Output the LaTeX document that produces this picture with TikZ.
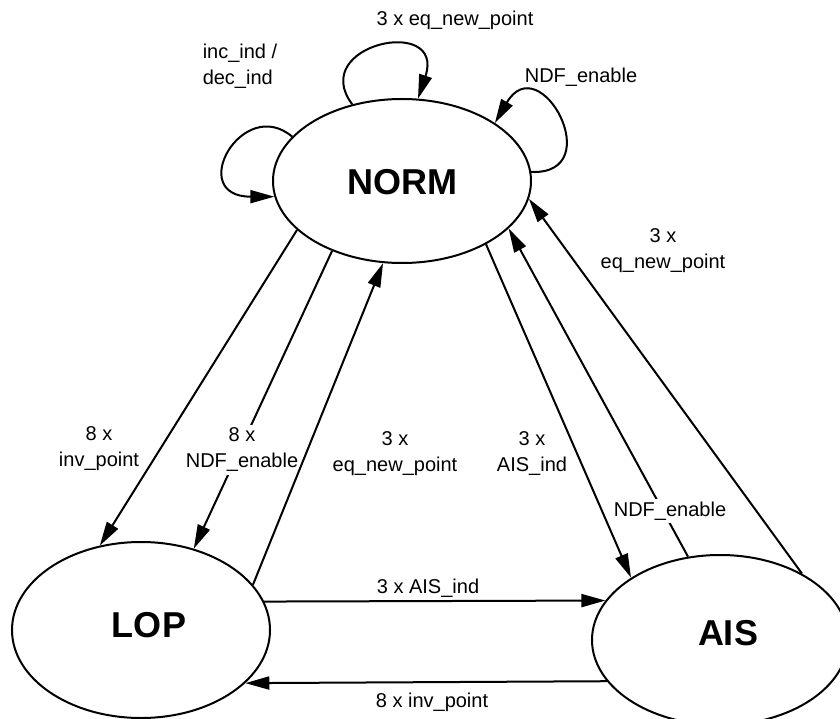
\documentclass[tikz,border=0pt]{standalone}
\usepackage{fontspec}
\setmainfont{Liberation Sans}
\usetikzlibrary{arrows.meta,shapes.geometric}
\begin{document}
\begin{tikzpicture}[x=1pt,y=1pt,
  state/.style={draw, ellipse, line width=2pt, inner sep=0pt},
  statetext/.style={font=\fontsize{36}{40}\selectfont\bfseries, inner sep=0pt},
  lbl/.style={font=\fontsize{20}{26}\selectfont, align=center, inner sep=3pt},
  onlbl/.style={lbl, fill=white},
  edge/.style={line width=2pt, -{Triangle[length=24pt,width=13pt]}},
]
\useasboundingbox (0,0) rectangle (840,-719);
% states
\node[state, minimum width=258pt, minimum height=164pt] (NORM) at (402,-181) {};
\node[state, minimum width=258pt, minimum height=176pt] (LOP) at (141,-630) {};
\node[state, minimum width=256pt, minimum height=170pt] (AIS) at (720,-640) {};
\node[statetext] (NORMt) at (402,-182) {NORM};
\node[statetext] (LOPt) at (149,-625) {LOP};
\node[statetext] (AISt) at (728,-633) {AIS};
% self loops on NORM
\draw[edge] (NORM.123.7) .. controls +(-45,60) and +(28,84) .. (NORM.79.6);
\draw[edge] (NORM.158.6) .. controls +(-50,42) and +(-89,0) .. (NORM.187.1);
\draw[edge] (NORM.4) .. controls +(78,-3) and +(45,77) .. (NORM.32.4);
% NORM <-> LOP
\draw[edge] (NORM.205) -- (LOP.116.3);
\draw[edge] (NORM.225.8) -- (LOP.57.6);
\node[onlbl] (l2) at (242,-450) {8 x\\NDF\_enable};
\draw[edge] (LOP.22.8) -- (NORM.257);
% NORM <-> AIS
\draw[edge] (NORM.323.2) -- (AIS.145.9);
\draw[edge] (AIS.111.1) -- (NORM.336.2);
\node[onlbl] (l5) at (670,-511) {NDF\_enable};
\draw[edge] (AIS.39.3) -- (NORM.352.4);
% LOP <-> AIS
\draw[edge] (LOP.13.4) -- (AIS.161);
\draw[edge] (AIS.200.9) -- (LOP.333.2);
% labels
\node[lbl] (lt) at (455,-20) {3 x eq\_new\_point};
\node[lbl, align=left] (ll) at (240,-66) {inc\_ind /\\dec\_ind};
\node[lbl] (lr) at (581,-77) {NDF\_enable};
\node[lbl] (l1) at (99,-449) {8 x\\inv\_point};
\node[lbl] (l3) at (395,-454) {3 x\\eq\_new\_point};
\node[lbl] (l4) at (532,-454) {3 x\\AIS\_ind};
\node[lbl] (l6) at (663,-251) {3 x\\eq\_new\_point};
\node[lbl] (l7) at (428,-588) {3 x AIS\_ind};
\node[lbl] (l8) at (432,-702) {8 x inv\_point};
\end{tikzpicture}
\end{document}
